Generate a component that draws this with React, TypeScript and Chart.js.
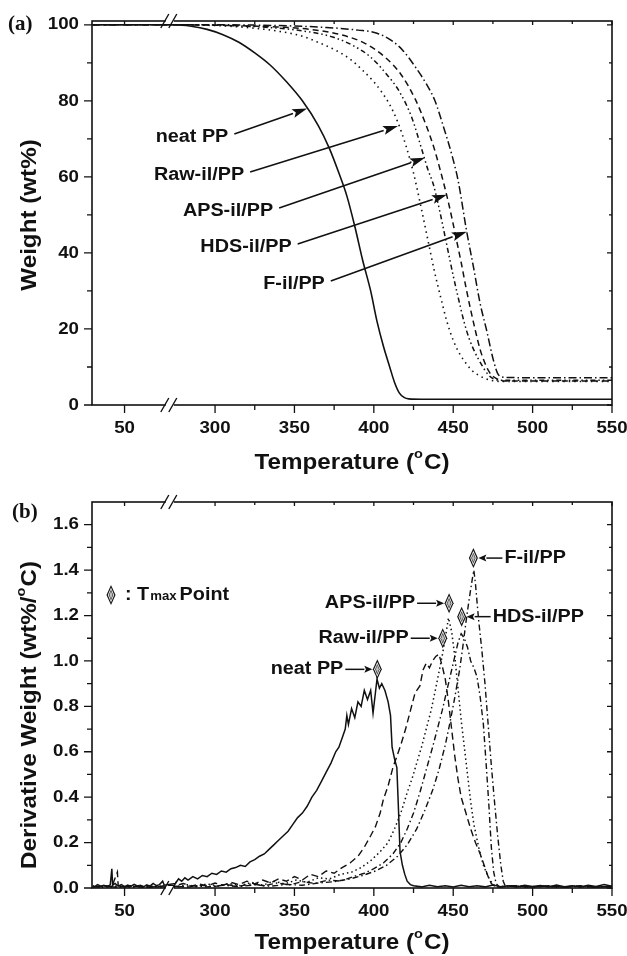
import React, { useEffect, useRef } from "react";
import { Chart, registerables } from "chart.js";
Chart.register(...registerables);

// ---------- tick definitions ----------
const xMajorTicks = [50, 300, 350, 400, 450, 500, 550];
const xMinorTicks = [325, 375, 425, 475, 525];
const tgaYMajor = [0, 20, 40, 60, 80, 100];
const tgaYMinor = [10, 30, 50, 70, 90];
const dtgYMajor = [0, 0.2, 0.4, 0.6, 0.8, 1.0, 1.2, 1.4, 1.6];
const dtgYMinor = [0.1, 0.3, 0.5, 0.7, 0.9, 1.1, 1.3, 1.5];

// ---------- (a) TGA curves ----------
const tgaNeatT = [30, 75, 275, 285, 295, 305, 315, 325, 335, 345, 355, 365, 372, 378, 383, 388, 393, 398, 402, 406, 410, 413, 416, 419, 422, 430, 450, 500, 550];
const tgaNeatW = [100, 100, 100, 99.6, 98.8, 97.4, 95.4, 92.6, 89.3, 85, 80, 73.5, 67.5, 61, 55, 47, 38, 30, 22, 15.5, 10, 6, 3.2, 2, 1.6, 1.5, 1.5, 1.5, 1.5];
const tgaRawT = [30, 75, 275, 300, 320, 340, 355, 366, 376, 385, 393, 400, 405, 410, 415, 420, 425, 430, 434, 438, 442, 446, 450, 454, 458, 462, 466, 470, 475, 480, 550];
const tgaRawW = [100, 100, 100, 99.8, 99.3, 98.3, 97, 95.2, 93.3, 91, 88, 85, 82.3, 79, 74.5, 68.5, 61, 51.5, 43.5, 35.5, 28.5, 22, 17, 13.5, 11, 9, 7.8, 7, 6.4, 6.2, 6.2];
const tgaApsT = [30, 75, 275, 300, 330, 355, 374, 388, 398, 408, 416, 424, 430, 434, 437.5, 441.5, 446, 450, 453, 457, 460, 463.5, 468, 472, 476, 482, 550];
const tgaApsW = [100, 100, 100, 99.9, 99.4, 98.4, 96.8, 94.3, 91.5, 87, 82.5, 75.5, 67.5, 62, 58, 51, 42, 34, 28.5, 21.6, 17.5, 14, 10.5, 8, 6.8, 6.5, 6.5];
const tgaHdsT = [30, 75, 275, 300, 335, 360, 380, 395, 407, 417, 426, 433, 438, 442, 446, 449, 452, 455, 458, 461, 464, 467, 470, 473, 477, 482, 550];
const tgaHdsW = [100, 100, 100, 99.9, 99.5, 98.8, 97.3, 95, 91.5, 87, 80.5, 73.5, 67.5, 61.5, 55, 49.5, 43.5, 37.5, 31, 25, 19.5, 14.5, 11, 8.5, 7, 6.3, 6.3];
const tgaFT = [30, 75, 275, 300, 340, 370, 390, 402, 412, 418, 426, 433, 438.5, 444, 449, 453, 458.5, 462.7, 466.9, 471, 475.3, 478.4, 482, 490, 550];
const tgaFW = [100, 100, 100, 100, 99.8, 99.3, 98.6, 97.8, 95.6, 93.4, 89, 84.5, 80, 73, 66, 59.2, 45.6, 36.4, 26.8, 19.7, 11.8, 8, 7.3, 7.2, 7.2];

// ---------- (b) DTG curves ----------
const dtgNeatT = [30, 31, 33, 35, 37, 39, 41, 42, 42.5, 44, 46, 48, 50, 52, 54, 56, 58, 60, 62, 64, 66, 68, 70, 72, 74, 75,
  275, 277, 279, 281, 283, 286, 289, 292, 295, 298, 301, 304, 307, 310, 313, 316, 319, 322, 325, 328, 331, 334, 337, 340, 343, 346, 349, 352, 355, 358, 361, 364, 367, 370, 373, 376, 378, 380, 382, 383, 384, 386, 388, 390, 392, 394, 396, 398, 399.5, 401, 402, 403.5, 405, 407, 409, 410.5, 411.5, 413, 414.5, 415.5, 416.5, 418, 419.5, 421, 423, 425, 430, 435, 440, 445, 450, 455, 460, 465, 470, 475, 480, 485, 490, 495, 500, 505, 510, 515, 520, 525, 530, 535, 540, 545, 550];
const dtgNeatV = [0.010, 0.005, 0.015, 0.008, 0.012, 0.006, 0.014, 0.085, 0.012, 0.02, 0.008, 0.015, 0.006, 0.013, 0.007, 0.016, 0.009, 0.012, 0.005, 0.014, 0.008, 0.02, 0.01, 0.015, 0.03, 0.012,
  0.02, 0.04, 0.03, 0.045, 0.035, 0.05, 0.04, 0.055, 0.05, 0.065, 0.06, 0.075, 0.07, 0.085, 0.09, 0.1, 0.095, 0.115, 0.125, 0.14, 0.15, 0.17, 0.19, 0.21, 0.23, 0.25, 0.28, 0.31, 0.33, 0.36, 0.40, 0.43, 0.47, 0.51, 0.55, 0.60, 0.62, 0.66, 0.70, 0.76, 0.72, 0.79, 0.75, 0.82, 0.80, 0.87, 0.83, 0.87, 0.77, 0.86, 0.92, 0.88, 0.90, 0.87, 0.82, 0.76, 0.62, 0.57, 0.53, 0.35, 0.16, 0.10, 0.06, 0.03, 0.015, 0.01, 0.005, 0.012, 0.006, 0.01, 0.004, 0.012, 0.006, 0.01, 0.005, 0.013, 0.006, 0.01, 0.004, 0.012, 0.007, 0.011, 0.005, 0.013, 0.006, 0.01, 0.004, 0.012, 0.007, 0.015, 0.008];
const dtgRawT = [30, 34, 38, 42, 45.5, 46, 50, 55, 60, 65, 70, 75,
  275, 280, 285, 290, 295, 300, 305, 310, 315, 320, 325, 330, 335, 340, 345, 350, 355, 360, 365, 370, 375, 380, 385, 390, 394, 398, 401, 404, 406, 409, 412, 415, 417, 420, 423, 426, 429, 431, 433, 435, 437, 439, 441, 443, 445, 447, 449, 451, 453, 455, 458, 461, 464, 467, 470, 472, 474, 476, 480, 490, 500, 510, 520, 530, 540, 550];
const dtgRawV = [0.008, 0.004, 0.01, 0.006, 0.07, 0.01, 0.005, 0.012, 0.006, 0.01, 0.004, 0.01,
  0.01, 0.02, 0.008, 0.018, 0.01, 0.022, 0.012, 0.025, 0.015, 0.03, 0.018, 0.035, 0.022, 0.04, 0.03, 0.05, 0.035, 0.06, 0.05, 0.075, 0.065, 0.09, 0.11, 0.14, 0.18, 0.23, 0.27, 0.33, 0.39, 0.45, 0.53, 0.59, 0.63, 0.70, 0.78, 0.86, 0.89, 0.96, 0.99, 0.97, 1.0, 1.02, 1.03, 0.98, 0.92, 0.82, 0.70, 0.58, 0.48, 0.40, 0.33, 0.26, 0.20, 0.15, 0.09, 0.05, 0.02, 0.008, 0.005, 0.01, 0.004, 0.01, 0.005, 0.01, 0.004, 0.008];
const dtgApsT = [30, 36, 42, 48, 54, 60, 66, 72, 75,
  275, 282, 288, 295, 302, 309, 316, 323, 330, 337, 344, 351, 358, 365, 372, 379, 386, 392, 398, 404, 409, 413, 417, 421, 424, 427, 430, 433, 436, 439, 441, 443, 445, 447, 449, 451, 453, 455, 457, 459, 461, 463, 466, 469, 472, 475, 478, 485, 495, 505, 515, 525, 535, 550];
const dtgApsV = [0.005, 0.01, 0.004, 0.008, 0.003, 0.009, 0.004, 0.008, 0.005,
  0.005, 0.015, 0.006, 0.018, 0.008, 0.02, 0.01, 0.025, 0.012, 0.03, 0.018, 0.035, 0.025, 0.045, 0.04, 0.06, 0.07, 0.09, 0.12, 0.16, 0.2, 0.26, 0.33, 0.42, 0.48, 0.55, 0.62, 0.70, 0.78, 0.88, 0.95, 1.02, 1.10, 1.19, 1.13, 1.02, 0.88, 0.74, 0.62, 0.50, 0.38, 0.28, 0.18, 0.10, 0.05, 0.015, 0.005, 0.01, 0.004, 0.009, 0.003, 0.008, 0.004, 0.006];
const dtgHdsT = [30, 37, 44, 51, 58, 65, 72, 75,
  275, 283, 291, 299, 307, 315, 323, 331, 339, 347, 355, 363, 371, 379, 387, 394, 400, 406, 412, 417, 421, 425, 429, 433, 437, 440, 443, 446, 449, 451, 453, 455, 457, 459, 461, 463, 465, 467, 469, 471, 472.5, 474, 475.5, 477, 479, 488, 498, 508, 518, 528, 538, 550];
const dtgHdsV = [0.006, 0.003, 0.009, 0.004, 0.008, 0.003, 0.007, 0.004,
  0.008, 0.004, 0.012, 0.006, 0.015, 0.008, 0.018, 0.01, 0.022, 0.014, 0.028, 0.02, 0.035, 0.03, 0.05, 0.065, 0.085, 0.11, 0.15, 0.2, 0.26, 0.33, 0.42, 0.52, 0.62, 0.70, 0.78, 0.87, 0.96, 1.02, 1.08, 1.12, 1.10, 1.06, 1.0, 0.97, 0.93, 0.84, 0.72, 0.52, 0.36, 0.18, 0.07, 0.02, 0.005, 0.01, 0.004, 0.009, 0.003, 0.008, 0.004, 0.007];
const dtgFT = [30, 38, 46, 54, 62, 70, 75,
  275, 285, 295, 305, 315, 325, 335, 345, 355, 365, 375, 385, 393, 401, 408, 415, 421, 427, 432, 437, 441, 445, 448, 451, 454, 456, 458, 460, 462, 463, 464, 466, 468, 470, 472, 474, 476, 478, 480, 481.5, 483, 490, 500, 510, 520, 530, 540, 550];
const dtgFV = [0.004, 0.008, 0.003, 0.007, 0.003, 0.006, 0.004,
  0.004, 0.01, 0.005, 0.012, 0.006, 0.014, 0.008, 0.016, 0.012, 0.022, 0.028, 0.04, 0.055, 0.075, 0.1, 0.14, 0.19, 0.26, 0.34, 0.43, 0.52, 0.63, 0.73, 0.84, 0.96, 1.06, 1.17, 1.27, 1.36, 1.40, 1.34, 1.18, 1.05, 0.90, 0.72, 0.54, 0.38, 0.23, 0.10, 0.03, 0.005, 0.01, 0.004, 0.008, 0.003, 0.007, 0.004, 0.006];

// ---------- annotations ----------
const tgaLabels = ["neat PP", "Raw-il/PP", "APS-il/PP", "HDS-il/PP", "F-il/PP"];
const tgaArrowTipT = [358, 415.2, 432.2, 446, 458.5];
const tgaArrowTipW = [78, 73.4, 65, 55.3, 45.6];
const dtgLabels = ["neat PP", "Raw-il/PP", "APS-il/PP", "HDS-il/PP", "F-il/PP"];
const dtgTmaxT = [402.2, 443.4, 447.4, 455.3, 462.7];
const dtgTmaxV = [0.963, 1.10, 1.254, 1.195, 1.453];

// compressed (broken) temperature axis: 29.5–75 | 275–550
const toC = (t: number) => (t <= 75 ? t - 29.5 : t - 222.5);
const X_MAX = toC(550);
const BREAK_C = 49;

const FONT = "'Liberation Sans', Arial, Helvetica, sans-serif";
const SX = 1.1;

function text(ctx: CanvasRenderingContext2D, s: string, x: number, y: number, size: number, align = "left", sx = SX) {
  ctx.save();
  ctx.font = `bold ${size}px ${FONT}`;
  ctx.textBaseline = "middle";
  ctx.textAlign = "left";
  const w = ctx.measureText(s).width * sx;
  const x0 = align === "center" ? x - w / 2 : align === "right" ? x - w : x;
  ctx.translate(x0, y);
  ctx.scale(sx, 1);
  ctx.fillText(s, 0, 0);
  ctx.restore();
  return w;
}
function measure(ctx: CanvasRenderingContext2D, s: string, size: number, sx = SX) {
  ctx.save();
  ctx.font = `bold ${size}px ${FONT}`;
  const w = ctx.measureText(s).width * sx;
  ctx.restore();
  return w;
}
// title with optional superscript "o" before C
function title(ctx: CanvasRenderingContext2D, pre: string, withDeg: boolean, cx: number, cy: number, size: number) {
  if (!withDeg) {
    text(ctx, pre, cx, cy, size, "center");
    return;
  }
  const sup = size * 0.6;
  const w1 = measure(ctx, pre, size);
  const w2 = measure(ctx, "o", sup);
  const w3 = measure(ctx, "C)", size);
  let x = cx - (w1 + w2 + w3 + 1) / 2;
  text(ctx, pre, x, cy, size);
  x += w1;
  text(ctx, "o", x, cy - size * 0.38, sup);
  x += w2 + 1;
  text(ctx, "C)", x, cy, size);
}
function arrow(ctx: CanvasRenderingContext2D, x1: number, y1: number, x2: number, y2: number, len: number, hw: number, lw: number) {
  const ang = Math.atan2(y2 - y1, x2 - x1);
  const bx = x2 - len * Math.cos(ang);
  const by = y2 - len * Math.sin(ang);
  ctx.save();
  ctx.strokeStyle = "#111";
  ctx.fillStyle = "#111";
  ctx.lineWidth = lw;
  ctx.beginPath();
  ctx.moveTo(x1, y1);
  ctx.lineTo(bx, by);
  ctx.stroke();
  ctx.beginPath();
  ctx.moveTo(x2, y2);
  ctx.lineTo(bx + hw * Math.sin(ang), by - hw * Math.cos(ang));
  ctx.lineTo(bx + len * 0.2 * Math.cos(ang), by + len * 0.2 * Math.sin(ang));
  ctx.lineTo(bx - hw * Math.sin(ang), by + hw * Math.cos(ang));
  ctx.closePath();
  ctx.fill();
  ctx.restore();
}
function diamond(ctx: CanvasRenderingContext2D, x: number, y: number, hw: number, hh: number) {
  const d = (w: number, h: number, c: string) => {
    ctx.beginPath();
    ctx.moveTo(x, y - h);
    ctx.lineTo(x + w, y);
    ctx.lineTo(x, y + h);
    ctx.lineTo(x - w, y);
    ctx.closePath();
    ctx.fillStyle = c;
    ctx.fill();
  };
  ctx.save();
  d(hw, hh, "#111");
  d(hw - 1.3, hh - 2.6, "#f2f2f2");
  d(hw - 2.3, hh - 4.6, "#333");
  d(hw - 3, hh - 6, "#bdbdbd");
  ctx.restore();
}

type Panel = {
  tag: string;
  yMajor: number[];
  yMinor: number[];
  yFmt: (v: number) => string;
  yTitle: string;
  yTitleDeg: boolean;
  yTitleY: number;
  xTitleOffset: number;
  extra: (ctx: CanvasRenderingContext2D, chart: any) => void;
};

function axesPlugin(p: Panel) {
  return {
    id: "axes" + p.tag,
    afterDraw(chart: any) {
      const { ctx, chartArea: a, scales } = chart;
      const xs = scales.x, ys = scales.y;
      ctx.save();
      ctx.fillStyle = "#111";
      ctx.strokeStyle = "#111";
      // frame
      ctx.lineWidth = 1.6;
      ctx.strokeRect(a.left, a.top, a.right - a.left, a.bottom - a.top);
      ctx.lineWidth = 1.3;
      // x ticks
      const xt = (t: number, major: boolean) => {
        const px = xs.getPixelForValue(toC(t));
        const L = major ? 8 : 5;
        ctx.beginPath();
        ctx.moveTo(px, a.bottom);
        ctx.lineTo(px, a.bottom + L);
        ctx.moveTo(px, a.top);
        ctx.lineTo(px, a.top + (major ? 4 : 3));
        ctx.stroke();
      };
      xMajorTicks.forEach((t) => xt(t, true));
      xMinorTicks.forEach((t) => xt(t, false));
      xMajorTicks.forEach((t) => text(ctx, String(t), xs.getPixelForValue(toC(t)), a.bottom + 23, 17, "center"));
      // y ticks
      const yt = (v: number, major: boolean) => {
        const py = ys.getPixelForValue(v);
        ctx.beginPath();
        ctx.moveTo(a.left, py);
        ctx.lineTo(a.left - (major ? 8 : 5), py);
        ctx.moveTo(a.right, py);
        ctx.lineTo(a.right - (major ? 5 : 3), py);
        ctx.stroke();
      };
      p.yMajor.forEach((v) => yt(v, true));
      p.yMinor.forEach((v) => yt(v, false));
      p.yMajor.forEach((v) => text(ctx, p.yFmt(v), 79, ys.getPixelForValue(v), 17, "right"));
      // axis break
      const bx = xs.getPixelForValue(BREAK_C);
      [a.top, a.bottom].forEach((yy: number) => {
        ctx.fillStyle = "#fff";
        ctx.fillRect(bx - 4, yy - 2, 8, 4);
        ctx.fillStyle = "#111";
        ctx.lineWidth = 1.4;
        ctx.beginPath();
        ctx.moveTo(bx - 9, yy + 7);
        ctx.lineTo(bx - 1, yy - 7);
        ctx.moveTo(bx - 1, yy + 7);
        ctx.lineTo(bx + 7, yy - 7);
        ctx.stroke();
      });
      // titles
      ctx.fillStyle = "#111";
      title(ctx, "Temperature (", true, (a.left + a.right) / 2, a.bottom + p.xTitleOffset, 22);
      ctx.save();
      ctx.translate(30, p.yTitleY);
      ctx.rotate(-Math.PI / 2);
      title(ctx, p.yTitle, p.yTitleDeg, 0, 0, 22);
      ctx.restore();
      // panel tag
      ctx.save();
      ctx.font = `bold 21px 'Liberation Serif', 'Times New Roman', serif`;
      ctx.textBaseline = "middle";
      ctx.fillText(p.tag, p.tag === "(a)" ? 8 : 12, p.tag === "(a)" ? a.top + 4 : a.top + 11);
      ctx.restore();
      p.extra(ctx, chart);
      ctx.restore();
    },
  };
}

function mkDataset(t: number[], v: number[], dash: number[], width: number, smooth: boolean) {
  return {
    data: t.map((tt, i) => ({ x: toC(tt), y: v[i] })),
    borderColor: "#111",
    borderWidth: width,
    borderDash: dash,
    pointRadius: 0,
    fill: false,
    tension: smooth ? 0.4 : 0,
    cubicInterpolationMode: smooth ? "monotone" : "default",
  };
}

function ChartCanvas({ build, height }: { build: (c: HTMLCanvasElement) => Chart; height: number }) {
  const ref = useRef<HTMLCanvasElement | null>(null);
  useEffect(() => {
    const ch = build(ref.current!);
    return () => ch.destroy();
  }, []);
  return <canvas ref={ref} width={627} height={height} style={{ display: "block", width: 627, height }} />;
}

function buildTGA(c: HTMLCanvasElement) {
  const panel: Panel = {
    tag: "(a)",
    yMajor: tgaYMajor,
    yMinor: tgaYMinor,
    yFmt: (v) => String(v),
    yTitle: "Weight (wt%)",
    yTitleDeg: false,
    yTitleY: 215,
    xTitleOffset: 58,
    extra: (ctx, chart) => {
      const xs = chart.scales.x, ys = chart.scales.y;
      const lx = [192, 199, 228, 246, 294];
      const ly = [137, 175, 211, 247, 284];
      tgaLabels.forEach((s, i) => {
        const w = text(ctx, s, lx[i], ly[i], 18, "center");
        const sx = lx[i] + w / 2 + 6;
        arrow(ctx, sx, ly[i] - 3, xs.getPixelForValue(toC(tgaArrowTipT[i])), ys.getPixelForValue(tgaArrowTipW[i]), 15, 4.5, 1.6);
      });
    },
  };
  return new Chart(c, {
    type: "line",
    data: {
      datasets: [
        mkDataset(tgaNeatT, tgaNeatW, [], 1.6, true),
        mkDataset(tgaRawT, tgaRawW, [1.5, 4], 1.6, true),
        mkDataset(tgaApsT, tgaApsW, [5, 3, 1.5, 3, 1.5, 3], 1.5, true),
        mkDataset(tgaHdsT, tgaHdsW, [6, 4], 1.5, true),
        mkDataset(tgaFT, tgaFW, [8, 3, 1.5, 3], 1.5, true),
      ] as any,
    },
    options: {
      animation: false,
      responsive: false,
      events: [],
      layout: { padding: { left: 92, right: 15, top: 21, bottom: 75 } },
      plugins: { legend: { display: false }, tooltip: { enabled: false } },
      scales: {
        x: { type: "linear", min: 0, max: X_MAX, display: false },
        y: { min: 0, max: 101, display: false },
      },
    },
    plugins: [axesPlugin(panel)],
  } as any);
}

function buildDTG(c: HTMLCanvasElement) {
  const panel: Panel = {
    tag: "(b)",
    yMajor: dtgYMajor,
    yMinor: dtgYMinor,
    yFmt: (v) => v.toFixed(1),
    yTitle: "Derivative Weight (wt%/",
    yTitleDeg: true,
    yTitleY: 235,
    xTitleOffset: 55,
    extra: (ctx, chart) => {
      const xs = chart.scales.x, ys = chart.scales.y;
      // legend
      diamond(ctx, 111, 115, 4.5, 10);
      let x = 125;
      x += text(ctx, ": T", x, 115, 18);
      x += text(ctx, "max", x + 1, 117, 12) + 4;
      text(ctx, "Point", x, 115, 18);
      const leftSide = [true, true, true, false, false];
      dtgLabels.forEach((s, i) => {
        const dx = xs.getPixelForValue(toC(dtgTmaxT[i]));
        const dy = ys.getPixelForValue(dtgTmaxV[i]);
        diamond(ctx, dx, dy, 4.5, 10);
        if (leftSide[i]) {
          const tip = dx - 5;
          const start = tip - 27;
          text(ctx, s, start - 2, dy, 18, "right");
          arrow(ctx, start, dy, tip, dy, 8, 3.5, 1.5);
        } else {
          const tip = dx + 5;
          const start = tip + 24;
          text(ctx, s, start + 2, dy, 18, "left");
          arrow(ctx, start, dy, tip, dy, 8, 3.5, 1.5);
        }
      });
    },
  };
  return new Chart(c, {
    type: "line",
    data: {
      datasets: [
        mkDataset(dtgNeatT, dtgNeatV, [], 1.5, false),
        mkDataset(dtgRawT, dtgRawV, [7, 4], 1.4, false),
        mkDataset(dtgApsT, dtgApsV, [1.5, 3], 1.5, false),
        mkDataset(dtgHdsT, dtgHdsV, [6, 3, 1.5, 3], 1.4, false),
        mkDataset(dtgFT, dtgFV, [1.5, 3, 6, 3], 1.4, false),
      ] as any,
    },
    options: {
      animation: false,
      responsive: false,
      events: [],
      layout: { padding: { left: 92, right: 15, top: 22, bottom: 68 } },
      plugins: { legend: { display: false }, tooltip: { enabled: false } },
      scales: {
        x: { type: "linear", min: 0, max: X_MAX, display: false },
        y: { min: 0, max: 1.7, display: false },
      },
    },
    plugins: [axesPlugin(panel)],
  } as any);
}

export default function App() {
  return (
    <div style={{ position: "absolute", left: 0, top: 0, width: 627, height: 956, background: "#fff" }}>
      <ChartCanvas build={buildTGA} height={480} />
      <ChartCanvas build={buildDTG} height={476} />
    </div>
  );
}
